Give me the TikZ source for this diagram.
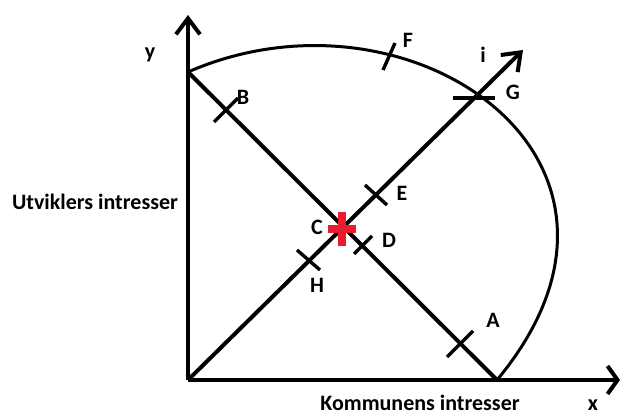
\documentclass[tikz,border=0pt]{standalone}
\usepackage{fontspec}
\setmainfont{Carlito}
\usepackage{tikz}
\usetikzlibrary{arrows.meta,positioning}
\definecolor{plusred}{RGB}{232,28,44}
\tikzset{
  lbl/.style={font=\fontsize{11}{13}\selectfont\bfseries, inner sep=0pt},
  barb/.style={-{Straight Barb[length=8pt,width=12pt]}},
  tick/.style={line width=1.7pt}
}
\begin{document}
\begin{tikzpicture}[x=0.5pt,y=0.5pt,line width=2pt]
  \useasboundingbox (0,0) rectangle (621,417);
  % points
  \coordinate (O) at (188,37);
  \coordinate (Ytop) at (188,402);
  \coordinate (Xend) at (620,37);
  \coordinate (P) at (188,345);
  \coordinate (Q) at (497,37);
  \coordinate (Itip) at (523,367);
  \coordinate (C) at (343,190);
  % axes and lines
  \draw[barb] (O)--(Ytop);
  \draw[-{Straight Barb[length=5pt,width=14pt]}] (O)--(Xend);
  \draw (P)--(Q);
  \draw[barb] (O)--(Itip);
  \draw[line width=1.5pt] (P) .. controls (410,442) and (680,257) .. (Q);
  % ticks
  \draw[tick] (226,307) ++(-12,-12)--++(24,24);
  \draw[tick] (460,73) ++(-13,-13)--++(26,26);
  \draw[tick] (363,172) ++(-9,-9)--++(18,18);
  \draw[tick] (376,222) ++(-11,10)--++(22,-20);
  \draw[tick] (309,157) ++(-12,10)--++(23,-20);
  \draw[tick] (389,360) ++(-6,-13)--++(12,27);
  \draw[tick] (453,319)--++(42,0);
  % red plus
  \draw[plusred,line width=4pt] (328,188)--++(28,0);
  \draw[plusred,line width=4pt] (342,171)--++(0,34);
  % labels
  \node[lbl] (lA) at (493,97) {A};
  \node[lbl] (lB) at (243,320) {B};
  \node[lbl] (lC) at (317,190) {C};
  \node[lbl] (lD) at (389,177) {D};
  \node[lbl] (lE) at (402,224) {E};
  \node[lbl] (lF) at (408,377) {F};
  \node[lbl] (lG) at (513,325) {G};
  \node[lbl] (lH) at (317,132) {H};
  \node[lbl] (li) at (483,362) {i};
  \node[lbl] (ly) at (150,362) {y};
  \node[lbl,anchor=base] (lx) at (593,6) {x};
  \node[lbl,anchor=base] (kom) at (420,6) {Kommunens intresser};
  \node[lbl] (utv) at (95,215) {Utviklers intresser};
\end{tikzpicture}
\end{document}
